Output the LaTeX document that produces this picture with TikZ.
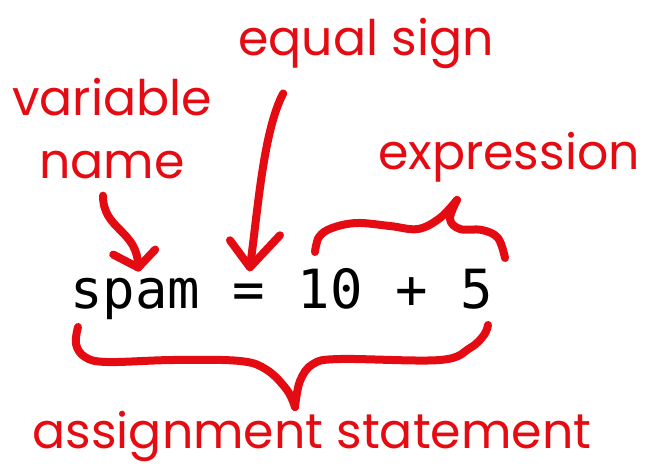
\documentclass[tikz,border=0pt]{standalone}
\usepackage{fontspec}
\usepackage{xcolor}
\usepackage{tikz}
\setmainfont{Poppins}
\newfontfamily\codefont{DejaVu Sans Mono}
\definecolor{penred}{RGB}{228,12,18}

\begin{document}
\begin{tikzpicture}[
  x=1pt,y=-1pt,
  lbl/.style={text=penred, font=\fontsize{49}{52}\selectfont, inner sep=0pt, anchor=base},
  code/.style={text=black, font=\codefont\fontsize{54}{60}\selectfont, inner sep=0pt, anchor=base west},
  pen/.style={draw=penred, line width=8pt, line cap=round, line join=round}]
\useasboundingbox[fill=white] (0,0) rectangle (646,466);
\node[lbl] (eqlbl) at (366,55) {equal sign};
\node[lbl] (varlbl) at (112,115) {variable};
\node[lbl] (namelbl) at (112,178) {name};
\node[lbl] (exprlbl) at (509,169) {expression};
\node[lbl] (asgnlbl) at (312,448) {assignment statement};
\node[code] (spam) at (70,308) {spam};
\node[code] (eq) at (232.5,308) {=};
\node[code] (rhs) at (297.5,308) {10 + 5};
\coordinate (vtail) at ([shift={(-9,17)}]namelbl.south);
\coordinate (vtip) at ([shift={(3,-10)}]spam.north);
\coordinate (etail) at ([shift={(45,25)}]eqlbl.south west);
\coordinate (etip) at ([shift={(1,-16)}]eq.north);
\draw[pen] (vtail) .. controls +(0,35) and +(0,-38) .. (vtip);
\draw[pen] ([shift={(-25,-13)}]vtip) -- (vtip) -- ([shift={(17,-18)}]vtip);
\draw[pen] (etail) .. controls +(-20,38) and +(8,-57) .. (etip);
\draw[pen] ([shift={(-20,-27)}]etip) -- (etip) -- ([shift={(30,-32)}]etip);
\draw[pen] plot[smooth, tension=0.6] coordinates {(315,252) (319,237) (332,228) (357,223) (390,226) (418,229) (440,218) (457,200)};
\draw[pen] plot[smooth, tension=0.6] coordinates {(457,200) (450,219) (460,229) (482,230) (498,238) (505,258)};
\draw[pen] plot[smooth, tension=0.6] coordinates {(78,327) (76,344) (85,357) (107,362) (173,360) (240,361) (267,370) (287,390) (295,407)};
\draw[pen] plot[smooth, tension=0.6] coordinates {(295,407) (300,381) (313,364) (340,359) (440,360) (470,348) (484,335) (488,325)};
\end{tikzpicture}
\end{document}
